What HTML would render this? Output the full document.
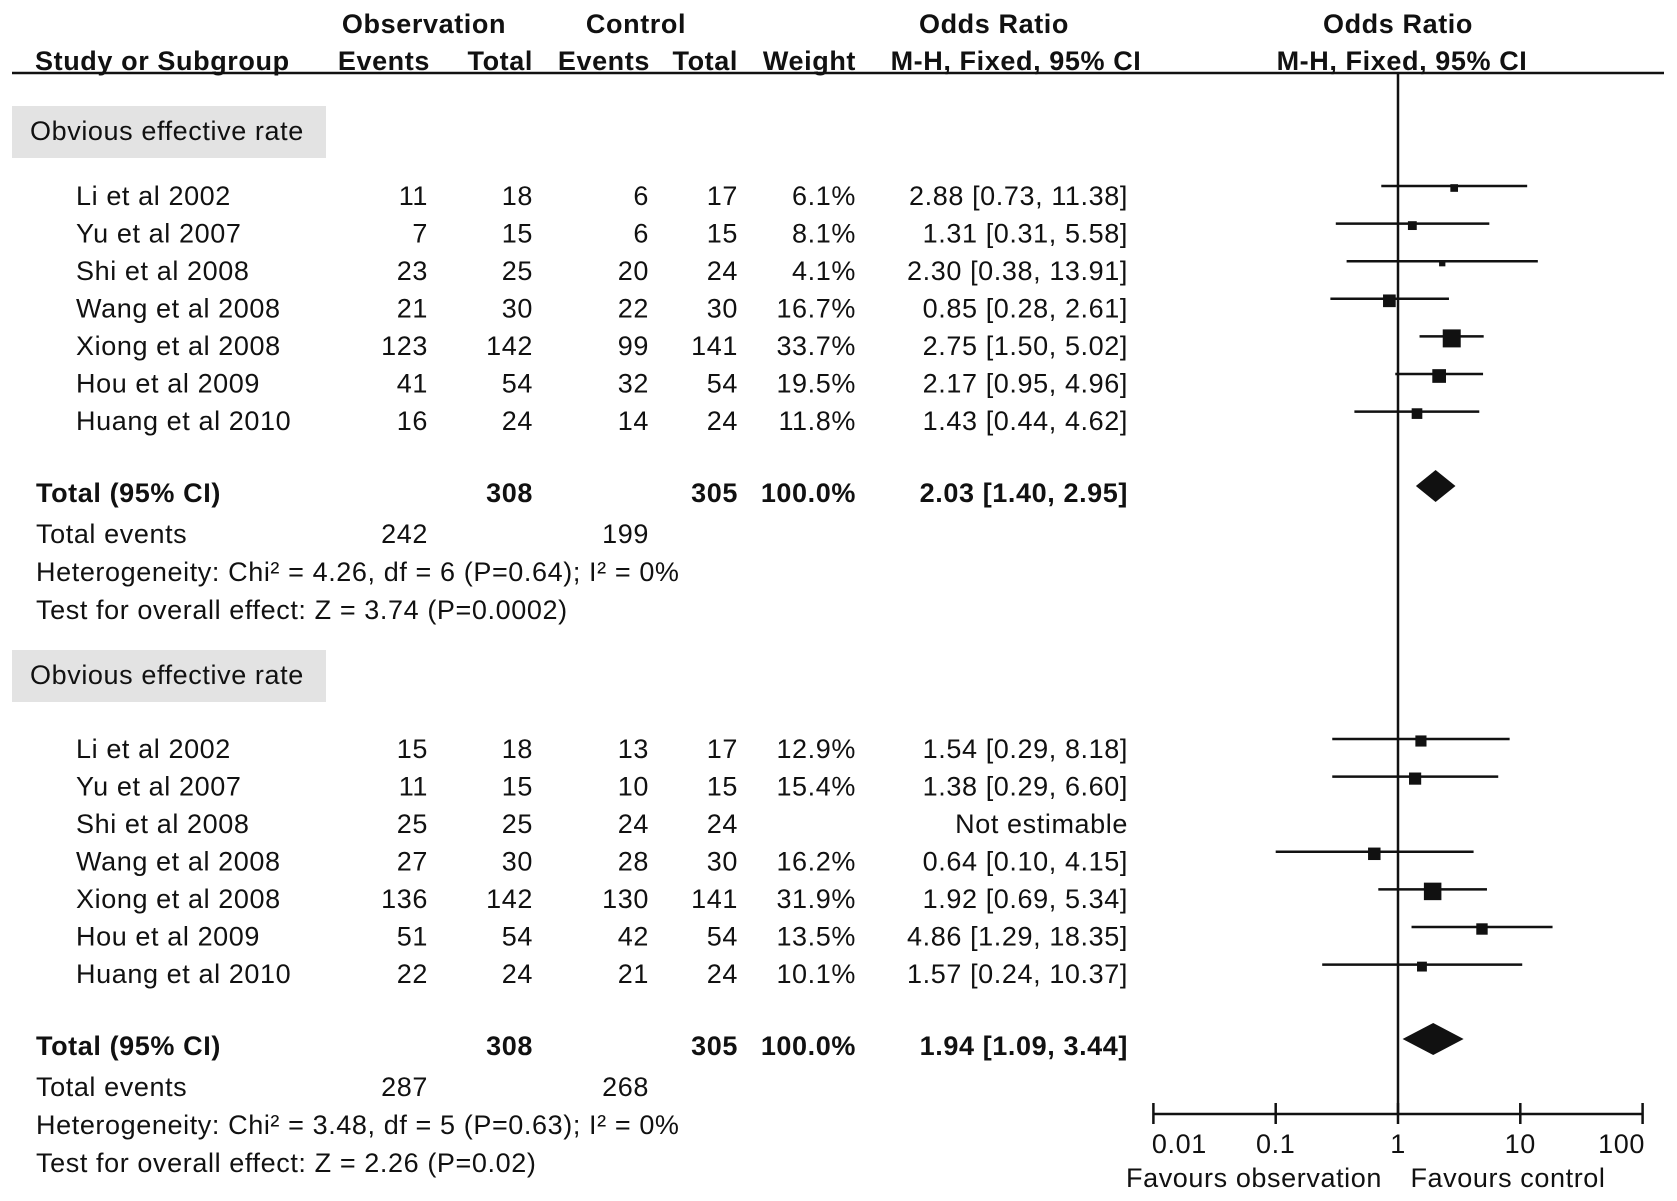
<!DOCTYPE html>
<html><head><meta charset="utf-8"><style>
html,body{margin:0;padding:0;background:#fff}
svg{display:block}
text{font-family:"Liberation Sans",Arial,sans-serif;font-size:27px;letter-spacing:0.6px;fill:#111}
.b{font-weight:bold}
</style></head><body>
<svg id="chart" width="1677" height="1201" viewBox="0 0 1677 1201">
<g id="hdr">
<text class="b" x="424" y="33" text-anchor="middle">Observation</text>
<text class="b" x="636" y="33" text-anchor="middle">Control</text>
<text class="b" x="994" y="33" text-anchor="middle">Odds Ratio</text>
<text class="b" x="1398" y="33" text-anchor="middle">Odds Ratio</text>
<text class="b" x="35" y="70">Study or Subgroup</text>
<text class="b" x="430" y="70" text-anchor="end">Events</text>
<text class="b" x="533" y="70" text-anchor="end">Total</text>
<text class="b" x="650" y="70" text-anchor="end">Events</text>
<text class="b" x="738" y="70" text-anchor="end">Total</text>
<text class="b" x="856" y="70" text-anchor="end">Weight</text>
<text class="b" x="1016" y="70" text-anchor="middle">M-H, Fixed, 95% CI</text>
<text class="b" x="1402" y="70" text-anchor="middle">M-H, Fixed, 95% CI</text>
<line x1="12" y1="73" x2="1664" y2="73" stroke="#111" stroke-width="2.5"/>
</g>
<g id="tbl"></g>
<g id="plot"></g>
</svg>
<script>
const studies=["Li et al 2002","Yu et al 2007","Shi et al 2008","Wang et al 2008","Xiong et al 2008","Hou et al 2009","Huang et al 2010"];
const obsEvents1=[11,7,23,21,123,41,16];
const obsTotal1=[18,15,25,30,142,54,24];
const ctrlEvents1=[6,6,20,22,99,32,14];
const ctrlTotal1=[17,15,24,30,141,54,24];
const weight1=[6.1,8.1,4.1,16.7,33.7,19.5,11.8];
const or1=[2.88,1.31,2.30,0.85,2.75,2.17,1.43];
const lo1=[0.73,0.31,0.38,0.28,1.50,0.95,0.44];
const hi1=[11.38,5.58,13.91,2.61,5.02,4.96,4.62];
const total1=[2.03,1.40,2.95];
const obsEvents2=[15,11,25,27,136,51,22];
const obsTotal2=[18,15,25,30,142,54,24];
const ctrlEvents2=[13,10,24,28,130,42,21];
const ctrlTotal2=[17,15,24,30,141,54,24];
const weight2=[12.9,15.4,null,16.2,31.9,13.5,10.1];
const or2=[1.54,1.38,null,0.64,1.92,4.86,1.57];
const lo2=[0.29,0.29,null,0.10,0.69,1.29,0.24];
const hi2=[8.18,6.60,null,4.15,5.34,18.35,10.37];
const total2=[1.94,1.09,3.44];
const ticks=[0.01,0.1,1,10,100];
const tickLabels=["0.01","0.1","1","10","100"];

const NS="http://www.w3.org/2000/svg";
const tbl=document.getElementById('tbl'),plot=document.getElementById('plot');
const xs=v=>1398+122.3*Math.log10(v);
function el(p,tag,attrs,txt){const e=document.createElementNS(NS,tag);for(const k in attrs)e.setAttribute(k,attrs[k]);if(txt!=null)e.textContent=txt;p.appendChild(e);return e;}
function T(x,y,s,anchor,bold){const t=el(tbl,'text',{x:x,y:y,'text-anchor':anchor||'start'},s);if(bold)t.setAttribute('class','b');return t;}
function fmt(v){return v.toFixed(2);}

function group(g,boxY,rowY0,markY0,oe,ot,ce,ct,w,or,lo,hi,tot,totals,het,test){
  const r=el(tbl,'rect',{x:12,y:boxY-25,width:314,height:52,fill:'#e3e3e3'});
  
  
  const st=T(30,boxY+9,'Obvious effective rate');
  
  
  for(let i=0;i<studies.length;i++){
    const y=rowY0+i*37.5;
    const a=T(76,y,studies[i]);
    
    
    T(428,y,oe[i],'end');T(533,y,ot[i],'end');T(649,y,ce[i],'end');T(738,y,ct[i],'end');
    if(w[i]!=null){T(856,y,w[i].toFixed(1)+'%','end');T(1128,y,fmt(or[i])+' ['+fmt(lo[i])+', '+fmt(hi[i])+']','end');}
    else T(1128,y,'Not estimable','end');
    if(or[i]!=null){
      const my=markY0+i*37.6;
      const l=el(plot,'line',{x1:xs(lo[i]),x2:xs(hi[i]),y1:my,y2:my,stroke:'#111','stroke-width':2.5});
      
      
      const s=3.1*Math.sqrt(w[i]);
      const b=el(plot,'rect',{x:xs(or[i])-s/2,y:my-s/2+2,width:s,height:s,fill:'#111'});
      
      
    }
  }
  const ty=rowY0+297;
  T(36,ty,'Total (95% CI)','start',true);T(533,ty,'308','end',true);T(738,ty,'305','end',true);
  T(856,ty,'100.0%','end',true);T(1128,ty,fmt(tot[0])+' ['+fmt(tot[1])+', '+fmt(tot[2])+']','end',true);
  T(36,ty+41,'Total events');T(428,ty+41,totals[0],'end');T(649,ty+41,totals[1],'end');
  T(36,ty+79,het);T(36,ty+117,test);
  const dy=markY0+300;
  const d=el(plot,'polygon',{points:[xs(tot[1])+','+dy,xs(tot[0])+','+(dy-16),xs(tot[2])+','+dy,xs(tot[0])+','+(dy+16)].join(' '),fill:'#111'});
  
  
}
group(1,131,205,186,obsEvents1,obsTotal1,ctrlEvents1,ctrlTotal1,weight1,or1,lo1,hi1,total1,[242,199],'Heterogeneity: Chi² = 4.26, df = 6 (P=0.64); I² = 0%','Test for overall effect: Z = 3.74 (P=0.0002)');
group(2,675,758,739,obsEvents2,obsTotal2,ctrlEvents2,ctrlTotal2,weight2,or2,lo2,hi2,total2,[287,268],'Heterogeneity: Chi² = 3.48, df = 5 (P=0.63); I² = 0%','Test for overall effect: Z = 2.26 (P=0.02)');

const vl=el(plot,'line',{x1:xs(1),x2:xs(1),y1:73,y2:1114,stroke:'#111','stroke-width':2.5});


const ax=el(plot,'line',{x1:xs(ticks[0]),x2:xs(ticks[ticks.length-1]),y1:1114,y2:1114,stroke:'#111','stroke-width':2.5});


ticks.forEach((t,i)=>{
  const tk=el(plot,'line',{x1:xs(t),x2:xs(t),y1:1103,y2:1124,stroke:'#111','stroke-width':2.5});
  
  
  let lx=xs(t);
  if(i===0)lx+=26;
  if(i===ticks.length-1)lx-=21;
  const lb=el(plot,'text',{x:lx,y:1153,'text-anchor':'middle'},tickLabels[i]);
  
  
});
const f1=el(plot,'text',{x:1254,y:1187,'text-anchor':'middle'},'Favours observation');


const f2=el(plot,'text',{x:1508,y:1187,'text-anchor':'middle'},'Favours control');


</script>
</body></html>
